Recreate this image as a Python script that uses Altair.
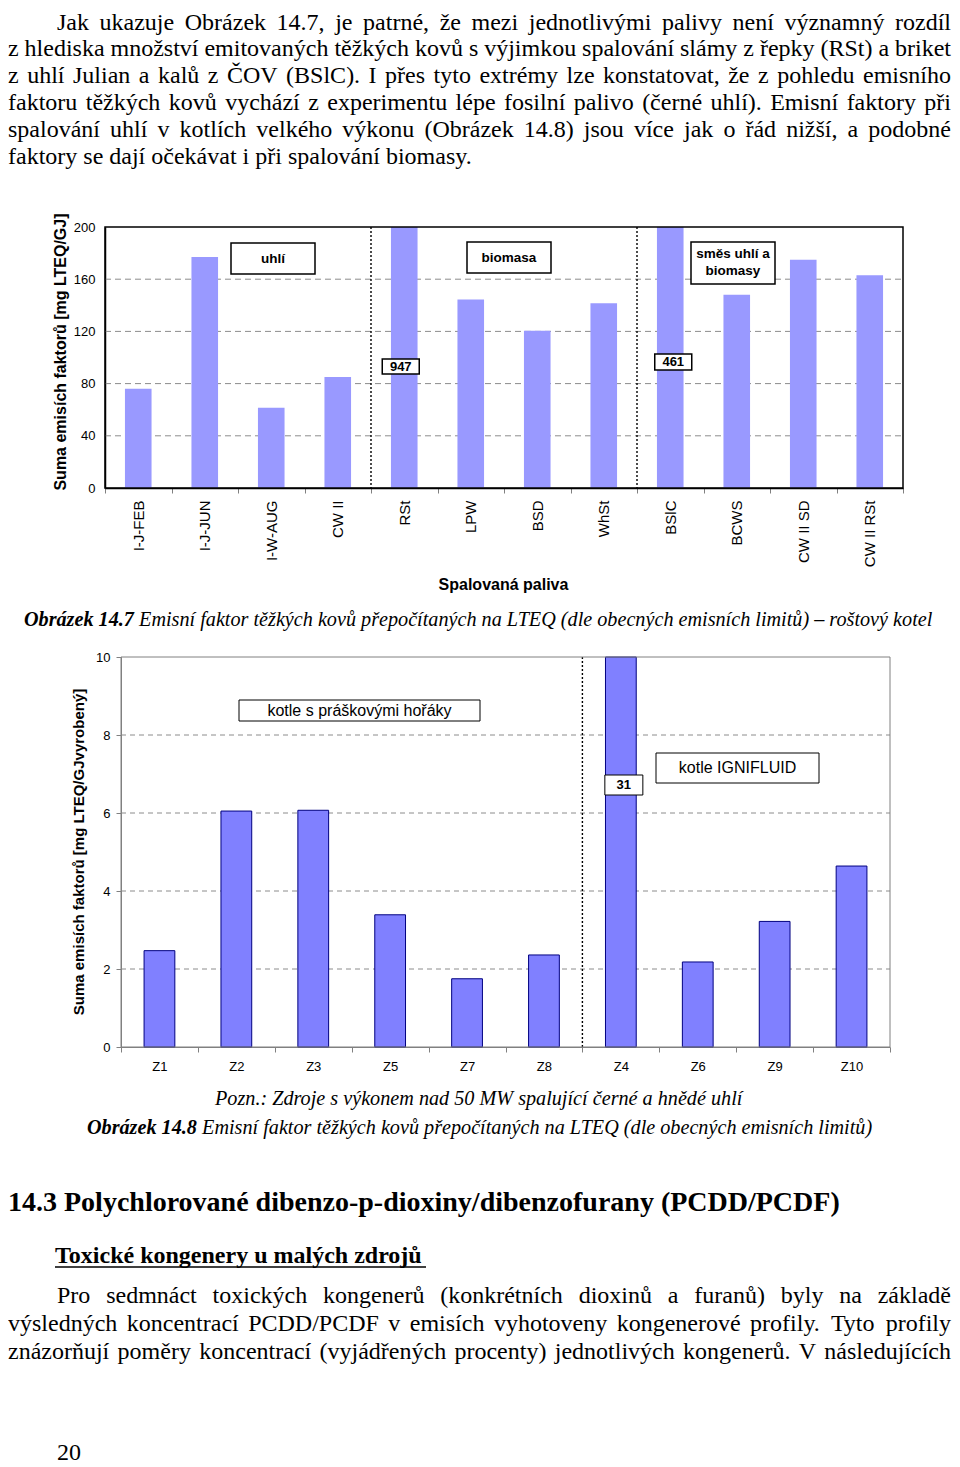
import unicodedata
import altair as alt
import pandas as pd

# ---------------- chart values ----------------
fuels = ["I-J-FEB", "I-J-JUN", "I-W-AUG", "CW II", "RSt", "LPW", "BSD", "WhSt",
         "BSlC", "BCWS", "CW II SD", "CW II RSt"]
fuel_emissions = [76, 177, 61.5, 85, 947, 144.5, 120.5, 141.5, 461, 148, 175, 163]
fuel_group_names = ["uhlí", "biomasa", "směs uhlí a biomasy"]
fuel_group_starts = ["I-J-FEB", "RSt", "BSlC"]
fuel_ticks = [0, 40, 80, 120, 160, 200]

sources = ["Z1", "Z2", "Z3", "Z5", "Z7", "Z8", "Z4", "Z6", "Z9", "Z10"]
source_emissions = [2.47, 6.05, 6.07, 3.39, 1.75, 2.36, 31, 2.18, 3.22, 4.64]
source_group_names = ["kotle s práškovými hořáky", "kotle IGNIFLUID"]
source_group_starts = ["Z1", "Z4"]
source_ticks = [0, 2, 4, 6, 8, 10]

# ---------------- page text ----------------
para1 = [
    "Jak ukazuje Obrázek 14.7, je patrné, že mezi jednotlivými palivy není významný rozdíl",
    "z hlediska množství emitovaných těžkých kovů s výjimkou spalování slámy z řepky (RSt) a briket",
    "z uhlí Julian a kalů z ČOV (BSlC). I přes tyto extrémy lze konstatovat, že z pohledu emisního",
    "faktoru těžkých kovů vychází z experimentu lépe fosilní palivo (černé uhlí). Emisní faktory při",
    "spalování uhlí v kotlích velkého výkonu (Obrázek 14.8) jsou více jak o řád nižší, a podobné",
    "faktory se dají očekávat i při spalování biomasy.",
]
para2 = [
    "Pro sedmnáct toxických kongenerů (konkrétních dioxinů a furanů) byly na základě",
    "výsledných koncentrací PCDD/PCDF v emisích vyhotoveny kongenerové profily. Tyto profily",
    "znázorňují poměry koncentrací (vyjádřených procenty) jednotlivých kongenerů. V následujících",
]
caption1_bold = "Obrázek 14.7"
caption1_text = "Emisní faktor těžkých kovů přepočítaných na LTEQ (dle obecných emisních limitů) – roštový kotel"
caption2_bold = "Obrázek 14.8"
caption2_text = "Emisní faktor těžkých kovů přepočítaných na LTEQ (dle obecných emisních limitů)"
note_text = "Pozn.: Zdroje s výkonem nad 50 MW spalující černé a hnědé uhlí"
heading = "14.3 Polychlorované dibenzo-p-dioxiny/dibenzofurany (PCDD/PCDF)"
subheading = "Toxické kongenery u malých zdrojů"
page_number = "20"
c1_ytitle = "Suma emisích faktorů [mg LTEQ/GJ]"
c1_xtitle = "Spalovaná paliva"
c2_ytitle = "Suma emisích faktorů [mg LTEQ/GJvyrobený]"

# ---------------- layout ----------------
W, H = 944, 1459
M = 8  # page margin


def cv(v):
    return v - M


SANS = "Liberation Sans"
SERIF = "Liberation Serif"

GEO1 = {"left": cv(105), "right": cv(903), "top": cv(227), "bottom": cv(488)}
GEO2 = {"left": cv(121), "right": cv(890), "top": cv(657), "bottom": cv(1047)}

STYLE1 = {
    "bar": {"color": "#9999ff"},
    "gridColor": "#8c8c8c", "gridDash": [6, 4],
    "axisColor": "black", "axisWidth": 1.5,
    "frameColor": "black", "frameWidth": 1.5,
    "xAngle": 270, "xAlign": "right", "xBaseline": "middle", "xPad": 7, "xSize": 15,
    "yTicks": False, "yPad": 10, "boxWidth": 1.5,
    # category: (top, bottom, box width, horizontal shift)
    "valueBoxes": {"RSt": (cv(359), cv(374), 37, -3.5), "BSlC": (cv(354), cv(370), 37, 3)},
}
STYLE2 = {
    "bar": {"fill": "#8080ff", "stroke": "#000080", "strokeWidth": 1},
    "gridColor": "#8c8c8c", "gridDash": [5, 4],
    "axisColor": "#808080", "axisWidth": 1,
    "frameColor": "#808080", "frameWidth": 1,
    "xAngle": 0, "xAlign": "center", "xBaseline": "top", "xPad": 8, "xSize": 13,
    "yTicks": True, "yPad": 6, "boxWidth": 1,
    "valueBoxes": {"Z4": (cv(775), cv(795), 38, 3)},
}


def build_chart(cats, vals, ticks, starts, geo, st):
    df = pd.DataFrame({"cat": cats, "value": vals})
    n_sep = len(starts) - 1
    xs = alt.Scale(domain=cats, range=[geo["left"], geo["right"]], paddingInner=0, paddingOuter=0)
    ys = alt.Scale(domain=[ticks[0], ticks[-1]], range=[geo["bottom"], geo["top"]],
                   clamp=True, nice=False, zero=False)
    xax = alt.Axis(orient="bottom", offset=geo["bottom"] - H, title=None, grid=False, tickBand="extent",
                   labelAngle=st["xAngle"], labelAlign=st["xAlign"], labelBaseline=st["xBaseline"],
                   labelPadding=st["xPad"], labelFont=SANS, labelFontSize=st["xSize"], labelColor="black",
                   labelOverlap=False, ticks=True, tickSize=5, tickColor="#808080",
                   domainColor=st["axisColor"], domainWidth=st["axisWidth"])
    yax = alt.Axis(orient="left", offset=-geo["left"], values=ticks, title=None, grid=False,
                   ticks=st["yTicks"], tickSize=5, tickColor="#808080", labelPadding=st["yPad"],
                   labelFont=SANS, labelFontSize=13, labelColor="black",
                   domainColor=st["axisColor"], domainWidth=st["axisWidth"])
    X = alt.X("cat:N", scale=xs, axis=xax)
    Y = alt.Y("value:Q", scale=ys, axis=yax)

    grid = alt.Chart(pd.DataFrame({"value": ticks[1:-1]})).mark_rule(
        color=st["gridColor"], strokeDash=st["gridDash"], strokeWidth=1
    ).encode(y=Y, x=alt.value(geo["left"]), x2=alt.value(geo["right"]))

    bars = alt.Chart(df).mark_bar(width=alt.RelativeBandSize(0.4), **st["bar"]).encode(x=X, y=Y)

    sep = alt.Chart(pd.DataFrame({"cat": starts[1:], "value": [ticks[-1]] * n_sep,
                                  "value2": [ticks[0]] * n_sep})).mark_rule(
        color="black", strokeDash=[2, 2], strokeWidth=1.4
    ).encode(x=alt.X("cat:N", scale=xs, axis=xax, bandPosition=0), y=Y, y2="value2:Q")

    frame = alt.Chart(pd.DataFrame({"k": [0]})).mark_rect(
        fillOpacity=0, stroke=st["frameColor"], strokeWidth=st["frameWidth"]
    ).encode(x=alt.value(geo["left"]), x2=alt.value(geo["right"]),
             y=alt.value(geo["top"]), y2=alt.value(geo["bottom"]))

    layers = [grid, bars, sep, frame]
    over = [c for c, v in zip(cats, vals) if v > ticks[-1]]
    for cat in over:
        y0, y1, bw, dx = st["valueBoxes"][cat]
        sel = alt.datum.cat == cat
        layers.append(alt.Chart(df).transform_filter(sel).mark_bar(
            width=bw, fill="white", stroke="black", strokeWidth=st["boxWidth"], xOffset=dx
        ).encode(x=X, y=alt.value(y0), y2=alt.value(y1)))
        layers.append(alt.Chart(df).transform_filter(sel).mark_text(
            font=SANS, fontWeight="bold", fontSize=13, color="black", baseline="middle",
            align="center", dx=dx
        ).encode(x=X, y=alt.value((y0 + y1) / 2), text=alt.Text("value:Q", format="d")))
    return alt.layer(*layers)


chart1 = build_chart(fuels, fuel_emissions, fuel_ticks, fuel_group_starts, GEO1, STYLE1)
chart2 = build_chart(sources, source_emissions, source_ticks, source_group_starts, GEO2, STYLE2)

# ---------------- page text placement (Times metrics for justification) ----------------
TIMES = {" ": 250, "(": 333, ")": 333, ",": 250, "-": 333, ".": 250, "/": 278, ":": 278,
         "A": 722, "B": 667, "C": 667, "D": 722, "E": 611, "F": 556, "G": 722, "H": 722, "I": 333,
         "J": 389, "K": 722, "L": 611, "M": 889, "N": 722, "O": 722, "P": 556, "Q": 722, "R": 667,
         "S": 556, "T": 611, "U": 722, "V": 722, "W": 944, "X": 722, "Y": 722, "Z": 611,
         "a": 444, "b": 500, "c": 444, "d": 500, "e": 444, "f": 333, "g": 500, "h": 500, "i": 278,
         "j": 278, "k": 500, "l": 278, "m": 778, "n": 500, "o": 500, "p": 500, "q": 500, "r": 333,
         "s": 389, "t": 278, "u": 500, "v": 500, "w": 722, "x": 500, "y": 500, "z": 444}
for d in "0123456789":
    TIMES[d] = 500


def tw(s, size):
    w = 0
    for ch in s:
        b = unicodedata.normalize("NFD", ch)[0]
        w += TIMES.get(b, 500)
    return w * size / 1000.0


RIGHT = 943


def place_line(text, x0, y, size, justify):
    words = text.split(" ")
    widths = [tw(w, size) for w in words]
    space = tw(" ", size)
    gap = space
    if justify and len(words) > 1:
        gap = max((RIGHT - x0 - sum(widths)) / (len(words) - 1), 0.7 * space)
    rows, x = [], x0
    for w, wd in zip(words, widths):
        rows.append({"t": w, "x": x, "y": y, "s": size})
        x += wd + gap
    return rows


regular_rows = []
p1_x = [49, 0, 0, 0, 0, 0]
p1_y = [21.5, 48.3, 75.1, 101.9, 128.7, 155.5]
p1_j = [True, True, True, True, True, False]
for line, x0, y, j in zip(para1, p1_x, p1_y, p1_j):
    regular_rows += place_line(line, x0, y, 24, j)
p2_x = [49, 0, 0]
p2_y = [1295, 1323, 1350.5]
for line, x0, y in zip(para2, p2_x, p2_y):
    regular_rows += place_line(line, x0, y, 24, True)
regular_rows.append({"t": page_number, "x": 49, "y": 1452, "s": 24})

CAP = 20.2
bolditalic_rows = [
    {"t": caption1_bold, "x": 16, "y": 618, "s": CAP},
    {"t": caption2_bold, "x": 79, "y": 1126, "s": CAP},
]
italic_rows = [
    {"t": caption1_text, "x": 16 + tw(caption1_bold, CAP) + 1.2 + tw(" ", CAP), "y": 618, "s": CAP},
    {"t": caption2_text, "x": 79 + tw(caption2_bold, CAP) + 1.2 + tw(" ", CAP), "y": 1126, "s": CAP},
    {"t": note_text, "x": 207, "y": 1097, "s": CAP},
]
bold_rows = [
    {"t": heading, "x": 0, "y": 1203, "s": 28},
    {"t": subheading, "x": 47, "y": 1255, "s": 24},
]


def serif_layer(rows, **mk):
    return alt.Chart(pd.DataFrame(rows)).mark_text(
        align="left", baseline="alphabetic", color="black", font=SERIF, **mk
    ).encode(x=alt.X("x:Q", scale=None, axis=None), y=alt.Y("y:Q", scale=None, axis=None),
             text="t:N", size=alt.Size("s:Q", scale=None, legend=None))


page_regular = serif_layer(regular_rows)
page_italic = serif_layer(italic_rows, fontStyle="italic")
page_bolditalic = serif_layer(bolditalic_rows, fontStyle="italic", fontWeight="bold")
page_bold = serif_layer(bold_rows, fontWeight="bold")

underline = alt.Chart(pd.DataFrame([{"x": 47, "x2": 418, "y": 1259}])).mark_rule(
    color="black", strokeWidth=1.5
).encode(x=alt.X("x:Q", scale=None, axis=None), x2="x2:Q", y=alt.Y("y:Q", scale=None, axis=None))

# ---------------- chart annotations ----------------
box_rows = [
    {"x": cv(231), "x2": cv(315), "y": cv(243), "y2": cv(274), "w": 1.5},
    {"x": cv(467), "x2": cv(551), "y": cv(242), "y2": cv(273), "w": 1.5},
    {"x": cv(691), "x2": cv(775), "y": cv(242), "y2": cv(284), "w": 1.5},
    {"x": cv(239), "x2": cv(480), "y": cv(700), "y2": cv(721), "w": 1},
    {"x": cv(656), "x2": cv(819), "y": cv(753), "y2": cv(783), "w": 1},
]
boxes = alt.Chart(pd.DataFrame(box_rows)).mark_rect(fill="white", stroke="black").encode(
    x=alt.X("x:Q", scale=None, axis=None), x2="x2:Q",
    y=alt.Y("y:Q", scale=None, axis=None), y2="y2:Q",
    strokeWidth=alt.StrokeWidth("w:Q", scale=None, legend=None))

bold_label_rows = [
    {"t": fuel_group_names[0], "x": cv(273), "y": cv(258.5), "s": 13.5},
    {"t": fuel_group_names[1], "x": cv(509), "y": cv(257.5), "s": 13.5},
    {"t": "směs uhlí a", "x": cv(733), "y": cv(254), "s": 13.5},
    {"t": "biomasy", "x": cv(733), "y": cv(271), "s": 13.5},
    {"t": c1_xtitle, "x": cv(503.5), "y": cv(585), "s": 16},
]
reg_label_rows = [
    {"t": source_group_names[0], "x": cv(359.5), "y": cv(710.5), "s": 16},
    {"t": source_group_names[1], "x": cv(737.5), "y": cv(768), "s": 16},
]
rot_rows = [
    {"t": c1_ytitle, "x": cv(61), "y": cv(352), "s": 16},
    {"t": c2_ytitle, "x": cv(79), "y": cv(852), "s": 15},
]


def sans_layer(rows, **mk):
    return alt.Chart(pd.DataFrame(rows)).mark_text(
        align="center", baseline="middle", color="black", font=SANS, **mk
    ).encode(x=alt.X("x:Q", scale=None, axis=None), y=alt.Y("y:Q", scale=None, axis=None),
             text="t:N", size=alt.Size("s:Q", scale=None, legend=None))


labels_bold = sans_layer(bold_label_rows, fontWeight="bold")
labels_reg = sans_layer(reg_label_rows)
titles_rot = sans_layer(rot_rows, fontWeight="bold", angle=270)

chart = alt.layer(
    page_regular, page_italic, page_bolditalic, page_bold, underline,
    chart1, chart2, boxes, labels_bold, labels_reg, titles_rot
).resolve_scale(
    x="independent", y="independent", size="independent", strokeWidth="independent"
).properties(
    width=W, height=H, autosize=alt.AutoSizeParams(type="none"), padding=0
).configure_view(strokeWidth=0)

chart.save("out.html", embed_options={"renderer": "svg", "actions": False})
